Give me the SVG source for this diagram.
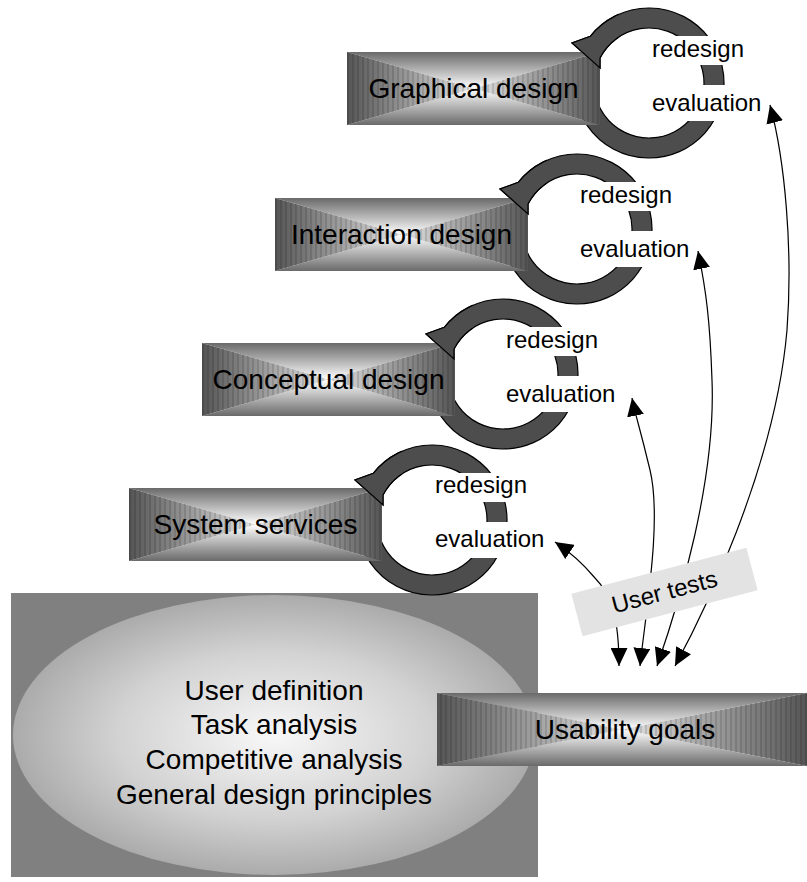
<svg xmlns="http://www.w3.org/2000/svg" xmlns:xlink="http://www.w3.org/1999/xlink" width="807" height="882" viewBox="0 0 807 882">
<style>
text{font-family:"Liberation Sans",Arial,sans-serif;fill:#000}
.big{font-size:28px}
.small{font-size:24px}
.ring{fill:#4d4d4d;stroke:#000;stroke-width:1.2;stroke-linejoin:miter}
.wbg{fill:#fff}
.conn{fill:none;stroke:#000;stroke-width:1.2;marker-start:url(#ah);marker-end:url(#ah)}
.sL{fill:url(#gL)}.sR{fill:url(#gR)}.sT{fill:url(#gT)}.sB{fill:url(#gB)}
.st{fill:url(#stripes)}
</style>
<defs>
<linearGradient id="gL" x1="0" y1="0" x2="1" y2="0"><stop offset="0" stop-color="#555"/><stop offset="1" stop-color="#e4e4e4"/></linearGradient>
<linearGradient id="gR" x1="1" y1="0" x2="0" y2="0"><stop offset="0" stop-color="#555"/><stop offset="1" stop-color="#e4e4e4"/></linearGradient>
<linearGradient id="gT" x1="0" y1="0" x2="0" y2="1"><stop offset="0" stop-color="#6a6a6a"/><stop offset="1" stop-color="#ffffff"/></linearGradient>
<linearGradient id="gB" x1="0" y1="1" x2="0" y2="0"><stop offset="0" stop-color="#6a6a6a"/><stop offset="1" stop-color="#ffffff"/></linearGradient>
<radialGradient id="gE" cx="0.5" cy="0.5" r="0.5"><stop offset="0" stop-color="#f8f8f8"/><stop offset="0.6" stop-color="#d2d2d2"/><stop offset="1" stop-color="#ababab"/></radialGradient>
<pattern id="stripes" patternUnits="userSpaceOnUse" width="5" height="10"><rect width="2" height="10" fill="#000" opacity="0.12"/></pattern>
<clipPath id="cw" clipPathUnits="userSpaceOnUse"><rect x="-100" y="-100" width="70" height="88"/></clipPath>
<g id="box">
<polygon class="sT" points="0,0 253,0 126.5,36.5"/>
<polygon class="sB" points="0,73 253,73 126.5,36.5"/>
<polygon class="sL" points="0,0 0,73 126.5,36.5"/>
<polygon class="sR" points="253,0 253,73 126.5,36.5"/>
<polygon class="st" points="0,0 0,73 126.5,36.5"/>
<polygon class="st" points="253,0 253,73 126.5,36.5"/>
</g>
<path id="ring" class="ring" d="M-73.86,13.02 A75,75 0 1 0 -58.7,-46.69 L-77,-40 L-49,-15 L-49,-24.97 A55,55 0 1 1 -54.16,9.55 Z"/>
<marker id="ah" markerUnits="userSpaceOnUse" markerWidth="18" markerHeight="17" refX="18" refY="8.5" orient="auto-start-reverse"><path d="M0,0 L18,8.5 L0,17 Z" fill="#000"/></marker>
</defs>

<g id="foundation">
<rect x="11" y="593" width="527" height="284" fill="#808080"/>
<ellipse cx="274" cy="735" rx="261" ry="140" fill="url(#gE)"/>
<text class="big" x="274" y="699.5" text-anchor="middle">User definition</text>
<text class="big" x="274" y="734" text-anchor="middle">Task analysis</text>
<text class="big" x="274" y="769" text-anchor="middle">Competitive analysis</text>
<text class="big" x="274" y="804" text-anchor="middle">General design principles</text>
</g>

<g id="usability-goals">
<polygon class="sT" points="437,693 807,693 622,729.5"/>
<polygon class="sB" points="437,766 807,766 622,729.5"/>
<polygon class="sL" points="437,693 437,766 622,729.5"/>
<polygon class="sR" points="807,693 807,766 622,729.5"/>
<polygon class="st" points="437,693 437,766 622,729.5"/>
<polygon class="st" points="807,693 807,766 622,729.5"/>
<text class="big" x="625" y="739" text-anchor="middle">Usability goals</text>
</g>

<g id="graphical-design">
<use xlink:href="#ring" href="#ring" transform="translate(649,83)"/>
<use xlink:href="#box" href="#box" transform="translate(347,52)"/>
<g transform="translate(649,83)"><use xlink:href="#ring" href="#ring" clip-path="url(#cw)"/></g>
<text class="big" x="473.5" y="98" text-anchor="middle">Graphical design</text>
<rect class="wbg" x="650" y="36" width="94" height="29"/>
<rect class="wbg" x="650" y="85" width="113" height="36"/>
<text class="small" x="652" y="57">redesign</text>
<text class="small" x="652" y="111">evaluation</text>
</g>

<g id="interaction-design">
<use xlink:href="#ring" href="#ring" transform="translate(577,229)"/>
<use xlink:href="#box" href="#box" transform="translate(275,198)"/>
<g transform="translate(577,229)"><use xlink:href="#ring" href="#ring" clip-path="url(#cw)"/></g>
<text class="big" x="401.5" y="244" text-anchor="middle">Interaction design</text>
<rect class="wbg" x="578" y="182" width="94" height="29"/>
<rect class="wbg" x="578" y="231" width="113" height="36"/>
<text class="small" x="580" y="203">redesign</text>
<text class="small" x="580" y="257">evaluation</text>
</g>

<g id="conceptual-design">
<use xlink:href="#ring" href="#ring" transform="translate(503,374)"/>
<use xlink:href="#box" href="#box" transform="translate(202,343)"/>
<g transform="translate(503,374)"><use xlink:href="#ring" href="#ring" clip-path="url(#cw)"/></g>
<text class="big" x="328.5" y="389" text-anchor="middle">Conceptual design</text>
<rect class="wbg" x="504" y="327" width="94" height="29"/>
<rect class="wbg" x="504" y="376" width="113" height="36"/>
<text class="small" x="506" y="348">redesign</text>
<text class="small" x="506" y="402">evaluation</text>
</g>

<g id="system-services">
<use xlink:href="#ring" href="#ring" transform="translate(432,520)"/>
<use xlink:href="#box" href="#box" transform="translate(129,488)"/>
<g transform="translate(432,520)"><use xlink:href="#ring" href="#ring" clip-path="url(#cw)"/></g>
<text class="big" x="255.5" y="534" text-anchor="middle">System services</text>
<rect class="wbg" x="433" y="473" width="94" height="29"/>
<rect class="wbg" x="433" y="522" width="113" height="36"/>
<text class="small" x="435" y="493">redesign</text>
<text class="small" x="435" y="547">evaluation</text>
</g>

<g id="connectors">
<path class="conn" d="M619,666 C619,620 612,595 595,578 C585,566 570,552 555,542"/>
<path class="conn" d="M640,666 C646,610 662,520 650,470 S636,418 632,398"/>
<path class="conn" d="M657,666 C680,600 716,480 712,380 C710,320 706,290 698,251"/>
<path class="conn" d="M675,666 C700,620 775,470 787,330 C793,250 785,160 770,105"/>
</g>

<g id="user-tests" transform="translate(664.5,592) rotate(-14.7)">
<rect x="-90.5" y="-22" width="181" height="44" fill="#e3e3e3"/>
<text class="small" x="0" y="8" text-anchor="middle">User tests</text>
</g>
</svg>
